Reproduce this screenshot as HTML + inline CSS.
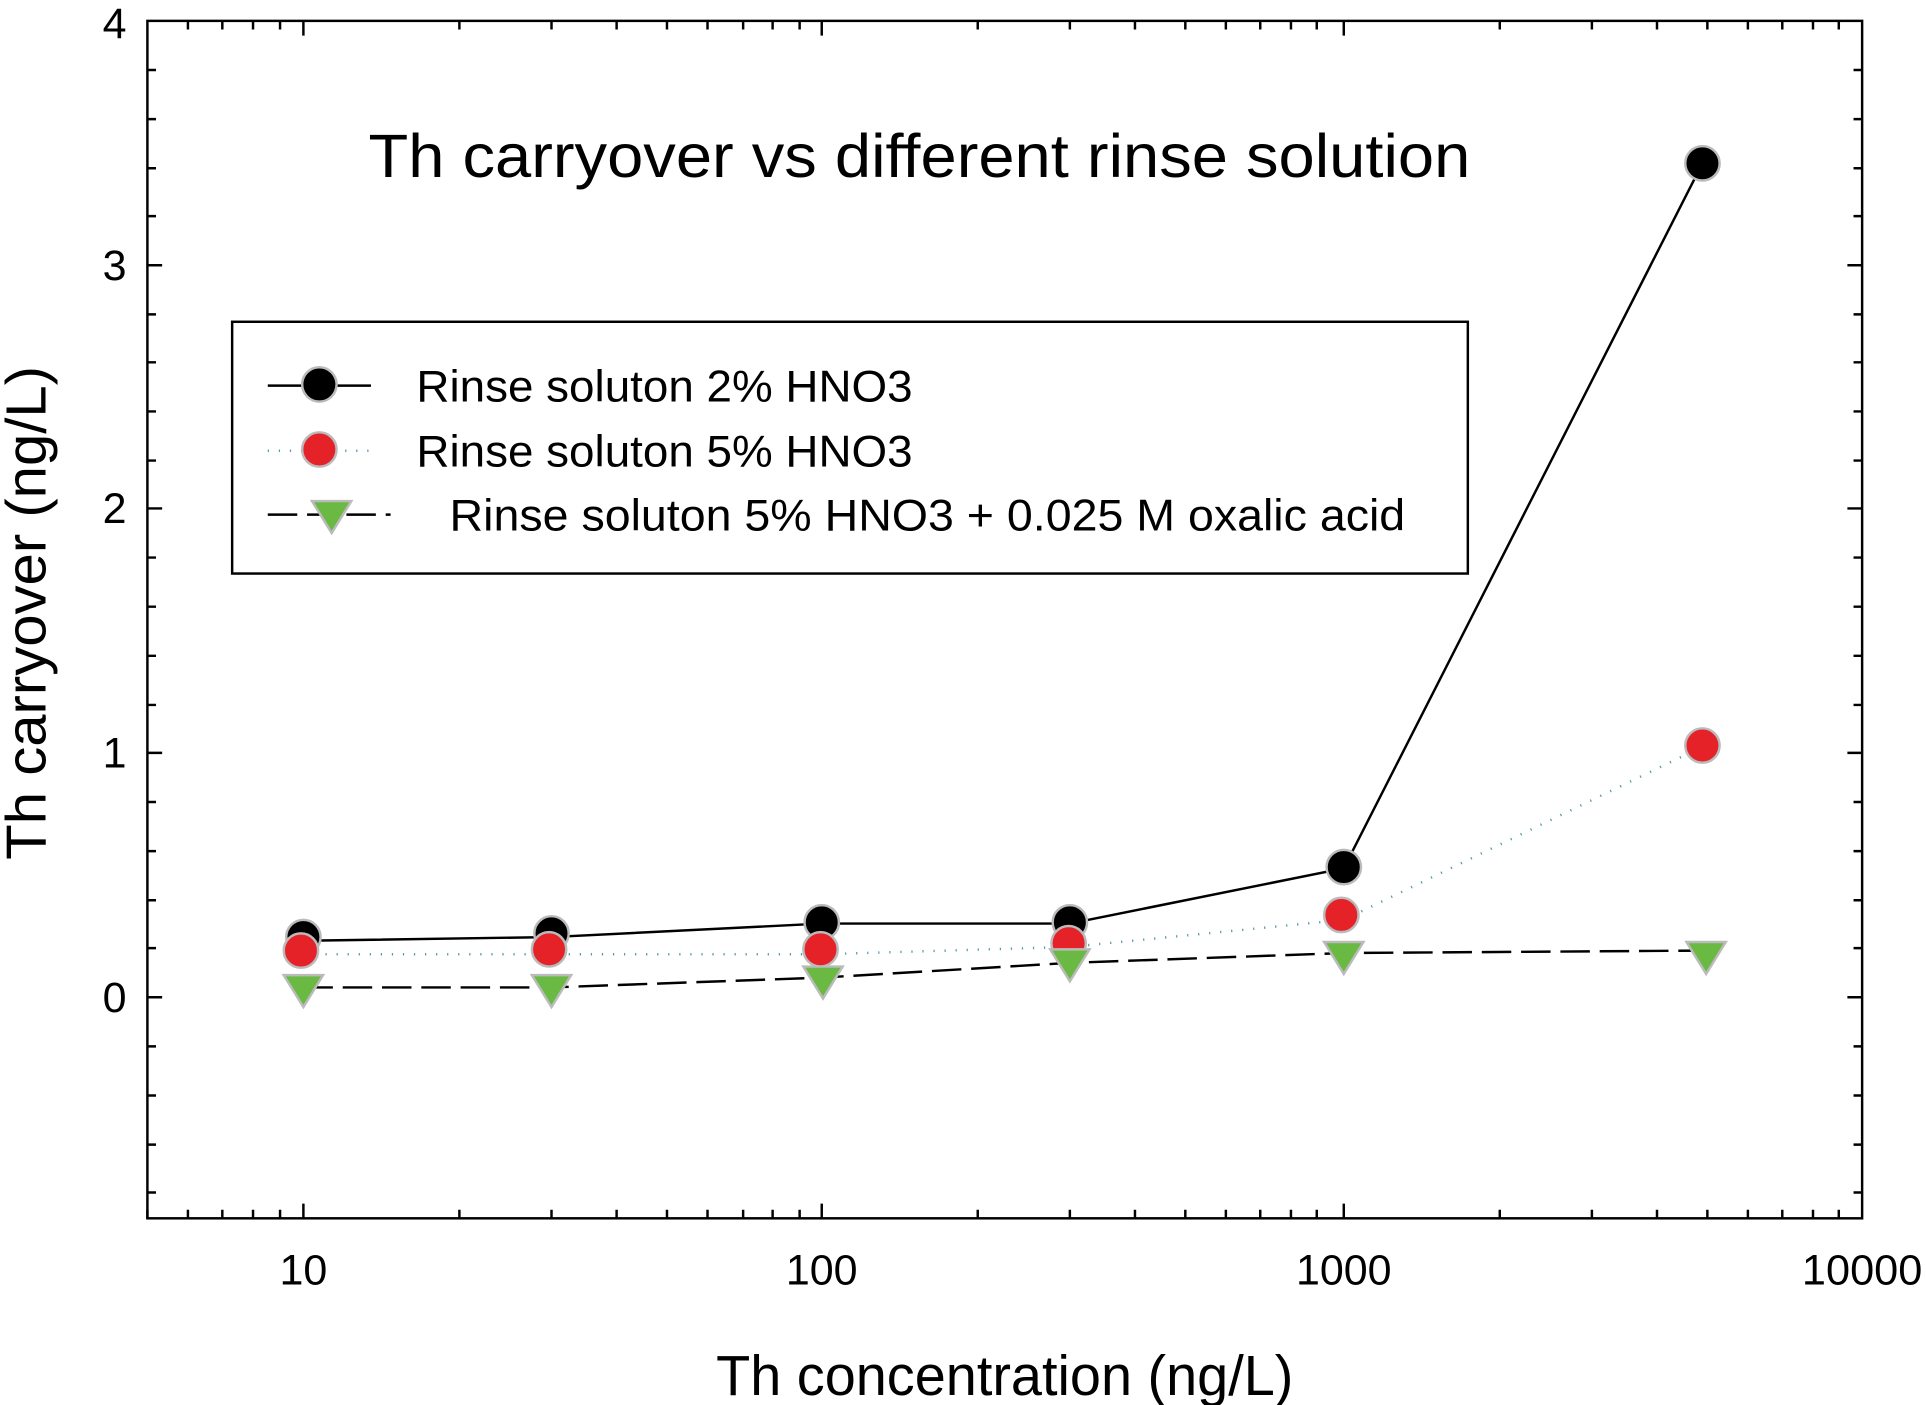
<!DOCTYPE html>
<html><head><meta charset="utf-8"><style>
html,body{margin:0;padding:0;background:#fff;}
svg{display:block;}
text{font-family:"Liberation Sans",Arial,sans-serif;fill:#000;}
</style></head><body>
<svg width="1926" height="1405" viewBox="0 0 1568 1144" preserveAspectRatio="none" xmlns="http://www.w3.org/2000/svg">
<rect x="120" y="17" width="1396" height="975" fill="none" stroke="#000" stroke-width="2"/>
<g stroke="#000" stroke-width="2">
<path d="M247 992v-12M669 992v-12M1094 992v-12M247 17v12M669 17v12M1094 17v12"/>
<path d="M120 992v-7M153 992v-7M181 992v-7M206 992v-7M228 992v-7M374 992v-7M449 992v-7M502 992v-7M543 992v-7M576 992v-7M605 992v-7M629 992v-7M651 992v-7M796 992v-7M871 992v-7M924 992v-7M965 992v-7M998 992v-7M1026 992v-7M1051 992v-7M1072 992v-7M1221 992v-7M1296 992v-7M1349 992v-7M1390 992v-7M1423 992v-7M1451 992v-7M1476 992v-7M1497 992v-7
M153 17v7M181 17v7M206 17v7M228 17v7M374 17v7M449 17v7M502 17v7M543 17v7M576 17v7M605 17v7M629 17v7M651 17v7M796 17v7M871 17v7M924 17v7M965 17v7M998 17v7M1026 17v7M1051 17v7M1072 17v7M1221 17v7M1296 17v7M1349 17v7M1390 17v7M1423 17v7M1451 17v7M1476 17v7M1497 17v7"/>
<path d="M120 812h12M120 613h12M120 414h12M120 216h12M1516 812h-12M1516 613h-12M1516 414h-12M1516 216h-12"/>
<path d="M120 971h7M120 932h7M120 892h7M120 852h7M120 772h7M120 733h7M120 693h7M120 653h7M120 574h7M120 534h7M120 494h7M120 454h7M120 375h7M120 335h7M120 295h7M120 256h7M120 176h7M120 137h7M120 97h7M120 57h7
M1516 971h-7M1516 932h-7M1516 892h-7M1516 852h-7M1516 772h-7M1516 733h-7M1516 693h-7M1516 653h-7M1516 574h-7M1516 534h-7M1516 494h-7M1516 454h-7M1516 375h-7M1516 335h-7M1516 295h-7M1516 256h-7M1516 176h-7M1516 137h-7M1516 97h-7M1516 57h-7"/>
</g>
<g font-size="35" text-anchor="end">
<text x="103" y="824">0</text><text x="103" y="625">1</text><text x="103" y="426">2</text><text x="103" y="228">3</text><text x="103" y="31">4</text>
</g>
<g font-size="35" text-anchor="middle">
<text x="247" y="1046">10</text><text x="669" y="1046">100</text><text x="1094" y="1046">1000</text><text x="1516" y="1046" textLength="98" lengthAdjust="spacingAndGlyphs">10000</text>
</g>
<text x="583" y="1136" font-size="46" textLength="470" lengthAdjust="spacingAndGlyphs">Th concentration (ng/L)</text>
<text transform="translate(37 700) rotate(-90)" font-size="46" textLength="402" lengthAdjust="spacingAndGlyphs">Th carryover (ng/L)</text>
<text x="300" y="144" font-size="50" textLength="897" lengthAdjust="spacingAndGlyphs">Th carryover vs different rinse solution</text>
<polyline points="247,766 449,763 669,752 871,752 1094,707 1386,133" fill="none" stroke="#000" stroke-width="2"/>
<polyline points="247,777 449,777 669,777 871,771 1094,749 1386,608" fill="none" stroke="#5a9aa8" stroke-width="2" stroke-dasharray="1,8"/>
<polyline points="247,804 449,804 669,796 871,784 1094,776 1386,774" fill="none" stroke="#000" stroke-width="2" stroke-dasharray="24,8"/>
<g stroke="#bbb" stroke-width="2">
<circle cx="247" cy="763" r="14" fill="#000"/><circle cx="449" cy="760" r="14" fill="#000"/><circle cx="669" cy="751" r="14" fill="#000"/><circle cx="871" cy="751" r="14" fill="#000"/><circle cx="1094" cy="706" r="14" fill="#000"/><circle cx="1386" cy="133" r="14" fill="#000"/>
<circle cx="245" cy="774" r="14" fill="#e52228"/><circle cx="447" cy="773" r="14" fill="#e52228"/><circle cx="668" cy="773" r="14" fill="#e52228"/><circle cx="870" cy="768" r="14" fill="#e52228"/><circle cx="1092" cy="745" r="14" fill="#e52228"/><circle cx="1386" cy="607" r="14" fill="#e52228"/>
<path d="M231 794h32l-16 26z M433 794h32l-16 26z M654 787h32l-16 26z M855 773h32l-16 26z M1078 767h32l-16 26z M1373 767h32l-16 26z" fill="#6ab942"/>
</g>
<rect x="189" y="262" width="1006" height="205" fill="#fff" stroke="#000" stroke-width="2"/>
<path d="M218 314h84" stroke="#000" stroke-width="2"/>
<path d="M218 367h84" stroke="#5a9aa8" stroke-width="2" stroke-dasharray="1,8"/>
<path d="M218 419h100" stroke="#000" stroke-width="2" stroke-dasharray="24,8"/>
<circle cx="260" cy="313" r="14" fill="#000" stroke="#bbb" stroke-width="2"/>
<circle cx="260" cy="366" r="14" fill="#e52228" stroke="#bbb" stroke-width="2"/>
<path d="M254 408h32l-16 26z" fill="#6ab942" stroke="#bbb" stroke-width="2"/>
<g font-size="36">
<text x="339" y="327" textLength="404" lengthAdjust="spacingAndGlyphs">Rinse soluton 2% HNO3</text>
<text x="339" y="380" textLength="404" lengthAdjust="spacingAndGlyphs">Rinse soluton 5% HNO3</text>
<text x="366" y="432" textLength="778" lengthAdjust="spacingAndGlyphs">Rinse soluton 5% HNO3 + 0.025 M oxalic acid</text>
</g>
</svg>
</body></html>
